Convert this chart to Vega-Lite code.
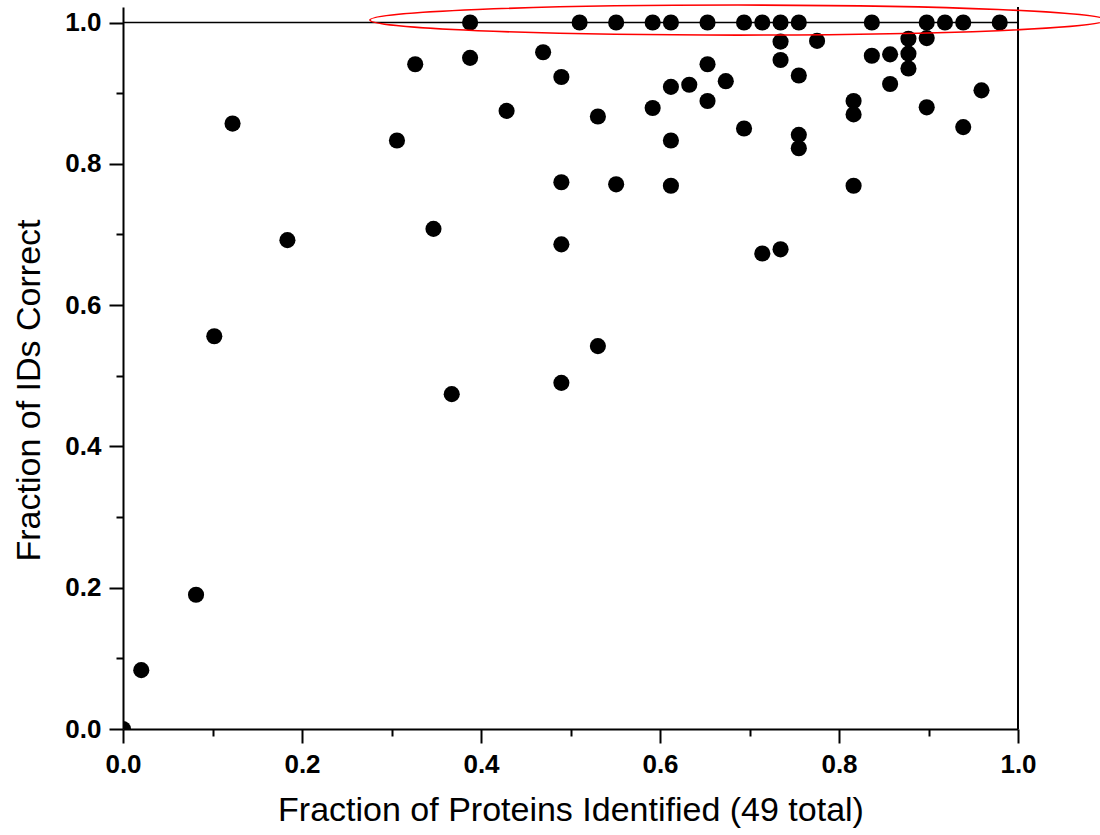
{
  "$schema": "https://vega.github.io/schema/vega-lite/v6.json",
  "width": 895,
  "height": 722,
  "autosize": {"type": "none"},
  "padding": {"left": 123, "top": 7, "right": 82, "bottom": 106},
  "background": "white",
  "config": {
    "view": {"stroke": null},
    "axis": {
      "grid": false,
      "domainColor": "black",
      "domainWidth": 2,
      "tickColor": "black",
      "tickWidth": 2,
      "labelFont": "Liberation Sans",
      "labelFontWeight": "bold",
      "labelFontSize": 26,
      "labelColor": "black",
      "titleFont": "Liberation Sans",
      "titleFontWeight": "normal",
      "titleFontSize": 34,
      "titleColor": "black",
      "labelOverlap": false,
      "labelFlush": false,
      "labelBound": false
    }
  },
  "layer": [
    {
      "data": {"values": [{"v": 1}]},
      "mark": {"type": "rule", "color": "black", "strokeWidth": 1.5},
      "encoding": {
        "y": {"field": "v", "type": "quantitative"}
      }
    },
    {
      "data": {"values": [{"v": 1}]},
      "mark": {"type": "rule", "color": "black", "strokeWidth": 2},
      "encoding": {
        "x": {"field": "v", "type": "quantitative"}
      }
    },
    {
      "data": {
        "values": [
          {"identified": 0.0, "correct": 0.0},
          {"identified": 0.0204, "correct": 0.0833},
          {"identified": 0.0816, "correct": 0.19},
          {"identified": 0.102, "correct": 0.556},
          {"identified": 0.1224, "correct": 0.857},
          {"identified": 0.1837, "correct": 0.692},
          {"identified": 0.3061, "correct": 0.833},
          {"identified": 0.3265, "correct": 0.941},
          {"identified": 0.3469, "correct": 0.708},
          {"identified": 0.3673, "correct": 0.474},
          {"identified": 0.3878, "correct": 1.0},
          {"identified": 0.3878, "correct": 0.95},
          {"identified": 0.4286, "correct": 0.875},
          {"identified": 0.4694, "correct": 0.958},
          {"identified": 0.4898, "correct": 0.923},
          {"identified": 0.4898, "correct": 0.774},
          {"identified": 0.4898, "correct": 0.686},
          {"identified": 0.4898, "correct": 0.49},
          {"identified": 0.5102, "correct": 1.0},
          {"identified": 0.5306, "correct": 0.867},
          {"identified": 0.5306, "correct": 0.542},
          {"identified": 0.551, "correct": 1.0},
          {"identified": 0.551, "correct": 0.771},
          {"identified": 0.5918, "correct": 1.0},
          {"identified": 0.5918, "correct": 0.879},
          {"identified": 0.6122, "correct": 1.0},
          {"identified": 0.6122, "correct": 0.909},
          {"identified": 0.6122, "correct": 0.833},
          {"identified": 0.6122, "correct": 0.769},
          {"identified": 0.6327, "correct": 0.912},
          {"identified": 0.6531, "correct": 1.0},
          {"identified": 0.6531, "correct": 0.941},
          {"identified": 0.6531, "correct": 0.889},
          {"identified": 0.6735, "correct": 0.917},
          {"identified": 0.6939, "correct": 1.0},
          {"identified": 0.6939, "correct": 0.85},
          {"identified": 0.7143, "correct": 1.0},
          {"identified": 0.7143, "correct": 0.673},
          {"identified": 0.7347, "correct": 1.0},
          {"identified": 0.7347, "correct": 0.973},
          {"identified": 0.7347, "correct": 0.947},
          {"identified": 0.7347, "correct": 0.679},
          {"identified": 0.7551, "correct": 1.0},
          {"identified": 0.7551, "correct": 0.925},
          {"identified": 0.7551, "correct": 0.841},
          {"identified": 0.7551, "correct": 0.822},
          {"identified": 0.7755, "correct": 0.974},
          {"identified": 0.8163, "correct": 0.889},
          {"identified": 0.8163, "correct": 0.87},
          {"identified": 0.8163, "correct": 0.769},
          {"identified": 0.8367, "correct": 1.0},
          {"identified": 0.8367, "correct": 0.953},
          {"identified": 0.8571, "correct": 0.955},
          {"identified": 0.8571, "correct": 0.913},
          {"identified": 0.8776, "correct": 0.977},
          {"identified": 0.8776, "correct": 0.956},
          {"identified": 0.8776, "correct": 0.935},
          {"identified": 0.898, "correct": 1.0},
          {"identified": 0.898, "correct": 0.978},
          {"identified": 0.898, "correct": 0.88},
          {"identified": 0.9184, "correct": 1.0},
          {"identified": 0.9388, "correct": 1.0},
          {"identified": 0.9388, "correct": 0.852},
          {"identified": 0.9592, "correct": 0.904},
          {"identified": 0.9796, "correct": 1.0}
        ]
      },
      "mark": {"type": "point", "shape": "circle", "filled": true, "color": "black", "opacity": 1, "size": 260, "clip": true},
      "encoding": {
        "x": {
          "field": "identified",
          "type": "quantitative",
          "scale": {"domain": [0, 1], "nice": false, "zero": false},
          "axis": {
            "title": "Fraction of Proteins Identified (49 total)",
            "values": [0, 0.1, 0.2, 0.3, 0.4, 0.5, 0.6, 0.7, 0.8, 0.9, 1.0],
            "tickSize": {"condition": {"test": "round(datum.value*10) % 2 === 1", "value": 7}, "value": 14},
            "labelExpr": "round(datum.value*10) % 2 === 1 ? '' : format(datum.value, '.1f')",
            "labelPadding": 8,
            "titlePadding": 16
          }
        },
        "y": {
          "field": "correct",
          "type": "quantitative",
          "scale": {"domain": [0, 1.022], "nice": false, "zero": false},
          "axis": {
            "title": "Fraction of IDs Correct",
            "values": [0, 0.1, 0.2, 0.3, 0.4, 0.5, 0.6, 0.7, 0.8, 0.9, 1.0],
            "tickSize": {"condition": {"test": "round(datum.value*10) % 2 === 1", "value": 7}, "value": 14},
            "labelExpr": "round(datum.value*10) % 2 === 1 ? '' : format(datum.value, '.1f')",
            "labelPadding": 8,
            "titlePadding": 18,
            "titleY": 383
          }
        }
      }
    },
    {
      "data": {"values": [{"identified": 0.687, "correct": 1.0035}]},
      "mark": {
        "type": "point",
        "filled": false,
        "fill": null,
        "stroke": "#ff0000",
        "strokeWidth": 1.6,
        "opacity": 1,
        "size": 541696,
        "shape": "M-1,0C-1,-0.02253,-0.5523,-0.0408,0,-0.0408C0.5523,-0.0408,1,-0.02253,1,0C1,0.02253,0.5523,0.0408,0,0.0408C-0.5523,0.0408,-1,0.02253,-1,0Z"
      },
      "encoding": {
        "x": {"field": "identified", "type": "quantitative"},
        "y": {"field": "correct", "type": "quantitative"}
      }
    }
  ]
}
